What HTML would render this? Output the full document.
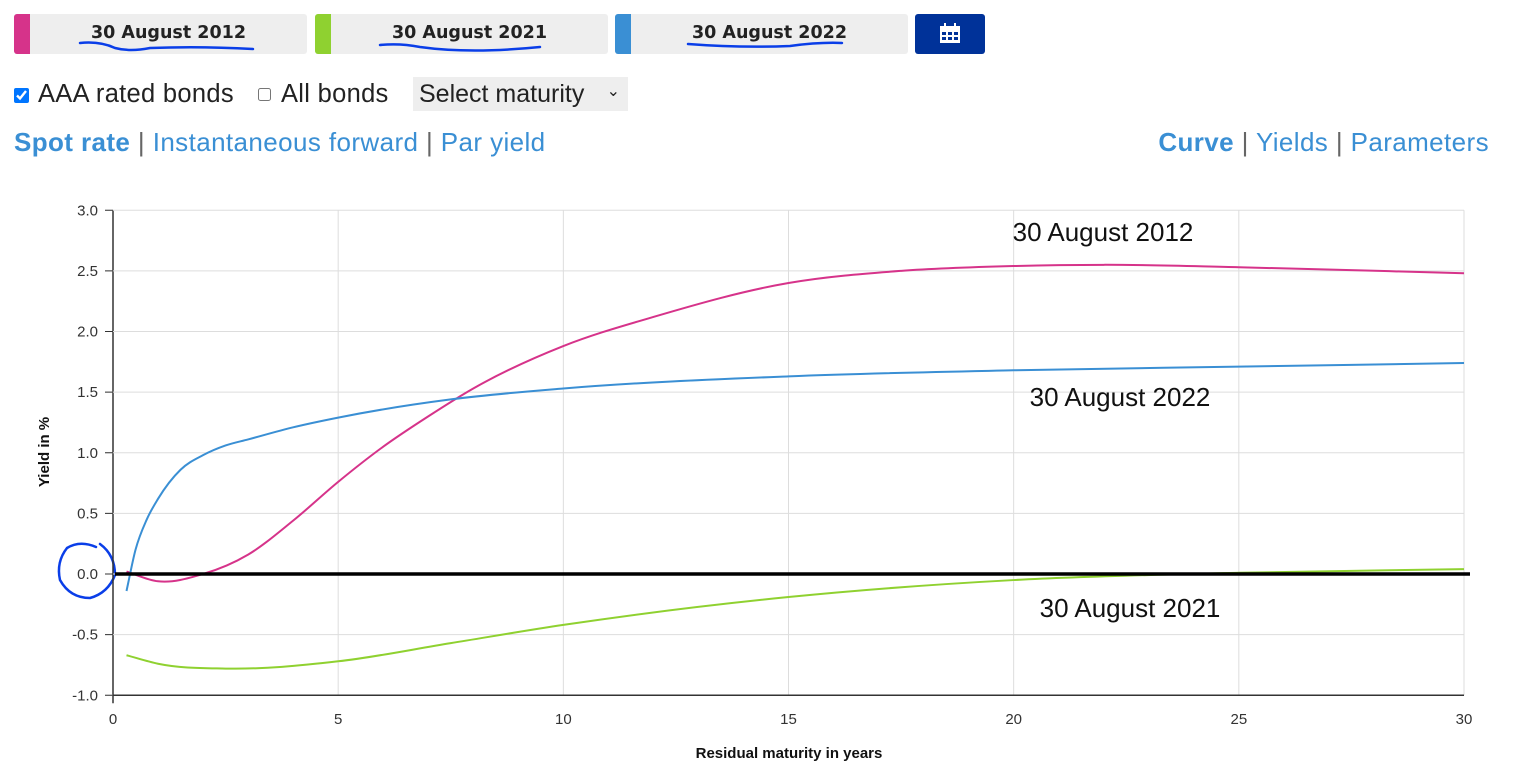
<!DOCTYPE html>
<html><head><meta charset="utf-8">
<style>
body{margin:0;width:1515px;height:770px;background:#fff;font-family:"Liberation Sans",sans-serif;position:relative;overflow:hidden}
.btn{position:absolute;top:14px;height:40px;width:293px;background:#eee;border-radius:3px}
.btn .bar{position:absolute;left:0;top:0;width:16px;height:40px;border-radius:3px 0 0 3px}
.btn .t{position:absolute;left:16px;right:0;top:9px;text-align:center;font:bold 17.5px "DejaVu Sans",sans-serif;color:#222}
.lnk{position:absolute;top:127px;font-size:26px;color:#3a8fd4;letter-spacing:0.4px}
.sep{color:#666}
</style></head><body>
<div class="btn" style="left:14px"><div class="bar" style="background:#d6338a"></div><div class="t">30 August 2012</div></div>
<div class="btn" style="left:315px"><div class="bar" style="background:#8fd130"></div><div class="t">30 August 2021</div></div>
<div class="btn" style="left:615px"><div class="bar" style="background:#3a8fd4"></div><div class="t">30 August 2022</div></div>
<div style="position:absolute;left:915px;top:14px;width:70px;height:40px;background:#003299;border-radius:3px">
<svg width="70" height="40"><rect x="25" y="12" width="20" height="17" fill="#fff"/><g fill="#003299"><rect x="27" y="18" width="4" height="3"/><rect x="33" y="18" width="4" height="3"/><rect x="39" y="18" width="4" height="3"/><rect x="27" y="23" width="4" height="3"/><rect x="33" y="23" width="4" height="3"/><rect x="39" y="23" width="4" height="3"/></g><rect x="29" y="9" width="2" height="5" fill="#fff"/><rect x="39" y="9" width="2" height="5" fill="#fff"/></svg></div>
<svg style="position:absolute;left:0;top:0" width="1515" height="770">
<g fill="none" stroke="#0a3ee8" stroke-width="2.5" stroke-linecap="round">
<path d="M80 43 Q100 41 115 48 Q130 52 150 48 Q200 46 253 49"/>
<path d="M380 45 Q400 43 420 47 Q470 54 540 47"/>
<path d="M688 44 Q740 48 790 46 Q820 42 842 43"/>
<path d="M96 547 Q80 540 67 548 Q56 562 60 580 Q70 598 90 598 Q108 593 115 575 Q115 555 100 544"/>
</g></svg>
<input type="checkbox" checked style="position:absolute;left:14px;top:88px;margin:0;width:15px;height:15px">
<div style="position:absolute;left:38px;top:80px;font-size:25.5px;color:#222;letter-spacing:0.3px">AAA rated bonds</div>
<input type="checkbox" style="position:absolute;left:258px;top:88px;margin:0;width:13px;height:13px">
<div style="position:absolute;left:281px;top:80px;font-size:25.5px;color:#222;letter-spacing:0.3px">All bonds</div>
<div style="position:absolute;left:413px;top:77px;width:215px;height:34px;background:#eee;font-size:25px;color:#222"><span style="position:absolute;left:6px;top:3px">Select maturity</span><span style="position:absolute;right:8px;top:4px;font-size:16px">&#8964;</span></div>
<div class="lnk" style="left:14px"><b>Spot rate</b> <span class="sep">|</span> <span>Instantaneous forward</span> <span class="sep">|</span> <span>Par yield</span></div>
<div class="lnk" style="right:26px"><b>Curve</b> <span class="sep">|</span> <span>Yields</span> <span class="sep">|</span> <span>Parameters</span></div>
<svg id="chart" style="position:absolute;left:0;top:0" width="1515" height="770"></svg>
<script>
const xTicks=[0,5,10,15,20,25,30];
const yTicks=[-1.0,-0.5,0.0,0.5,1.0,1.5,2.0,2.5,3.0];
const mat2012=[0.3,1,2,3,4,5,6,7,8,10,12,15,17.5,20,22,25,30];
const y2012=[0.02,-0.06,0.0,0.16,0.44,0.76,1.05,1.3,1.53,1.88,2.12,2.4,2.5,2.54,2.55,2.53,2.48];
const mat2022=[0.3,0.5,0.75,1,1.5,2,2.5,3,4,5,7.5,10,15,20,25,30];
const y2022=[-0.14,0.2,0.45,0.62,0.86,0.98,1.06,1.11,1.21,1.29,1.44,1.53,1.63,1.68,1.71,1.74];
const mat2021=[0.3,1,2.5,5,7.5,10,15,20,25,30];
const y2021=[-0.67,-0.74,-0.78,-0.72,-0.57,-0.42,-0.19,-0.05,0.01,0.04];
const svg=document.getElementById('chart');const NS='http://www.w3.org/2000/svg';
const X=v=>113+v*(1464-113)/30, Y=v=>574-v*121.25;
function mk(t,a,txt){const e=document.createElementNS(NS,t);for(const k in a)e.setAttribute(k,a[k]);if(txt!==undefined)e.textContent=txt;svg.appendChild(e);return e;}
xTicks.forEach(t=>{const g=mk('line',{x1:X(t),x2:X(t),y1:Y(3),y2:Y(-1)+(t==0?8:0),stroke:t==0?'#333':'#ddd','stroke-width':t==0?1.5:1});

const l=mk('text',{x:X(t),y:724,'text-anchor':'middle','font-size':15,fill:'#333'},String(t));
});
yTicks.forEach(t=>{const g=mk('line',{x1:X(0)-8,x2:X(30),y1:Y(t),y2:Y(t),stroke:'#ddd','stroke-width':1});

mk('line',{x1:X(0)-8,x2:X(0),y1:Y(t),y2:Y(t),stroke:'#333'});
const l=mk('text',{x:98,y:Y(t)+5,'text-anchor':'end','font-size':15,fill:'#333'},t.toFixed(1));
});
mk('line',{x1:X(0),x2:X(30),y1:Y(-1),y2:Y(-1),stroke:'#333','stroke-width':1.5});
function curve(xs,ys,color,name){const n=xs.length;const px=xs.map(X),py=ys.map(Y);
const m=[];for(let i=0;i<n;i++){const a=Math.max(i-1,0),b=Math.min(i+1,n-1);
if(i>0&&i<n-1){const s1=(py[i]-py[i-1])/(px[i]-px[i-1]),s2=(py[i+1]-py[i])/(px[i+1]-px[i]);const h1=px[i]-px[i-1],h2=px[i+1]-px[i];m.push((s1*h2+s2*h1)/(h1+h2));}
else m.push((py[b]-py[a])/(px[b]-px[a]));}
let d='M'+px[0]+','+py[0];
for(let i=0;i<n-1;i++){const h=(px[i+1]-px[i])/3;
d+=' C'+(px[i]+h)+','+(py[i]+m[i]*h)+' '+(px[i+1]-h)+','+(py[i+1]-m[i+1]*h)+' '+px[i+1]+','+py[i+1];}
const e=mk('path',{d:d,fill:'none',stroke:color,'stroke-width':2});
}
curve(mat2012,y2012,'#d6338a','curve-2012');
curve(mat2022,y2022,'#3a8fd4','curve-2022');
curve(mat2021,y2021,'#8fd130','curve-2021');
const z=mk('line',{x1:X(0)+2,x2:X(30)+6,y1:Y(0),y2:Y(0),stroke:'#000','stroke-width':3.5});

[['30 August 2012',1103,241],['30 August 2022',1120,406],['30 August 2021',1130,617]].forEach(a=>{const e=mk('text',{x:a[1],y:a[2],'text-anchor':'middle','font-size':26,fill:'#111'},a[0]);
});
const xt=mk('text',{x:789,y:758,'text-anchor':'middle','font-size':15,'font-weight':'bold',fill:'#111'},'Residual maturity in years');

const yt=mk('text',{x:0,y:0,transform:'translate(49,452) rotate(-90)','text-anchor':'middle','font-size':15,'font-weight':'bold',fill:'#111'},'Yield in %');

</script>
</body></html>
